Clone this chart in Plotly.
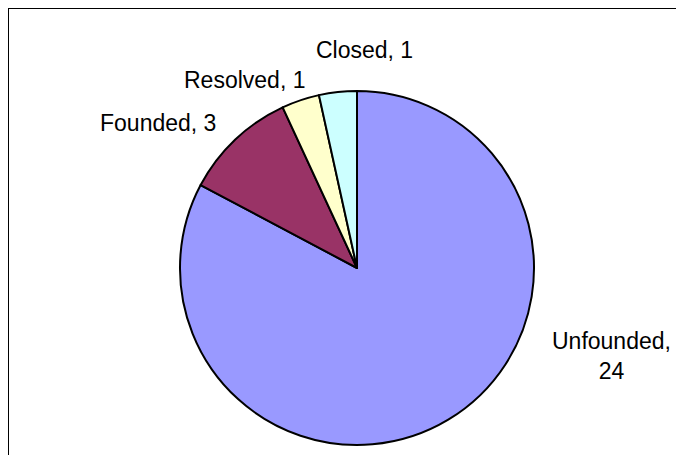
import plotly.graph_objects as go

labels = ["Unfounded", "Founded", "Resolved", "Closed"]
values = [24, 3, 1, 1]
colors = ["#9999FF", "#993366", "#FFFFCC", "#CCFFFF"]

# figure larger than the window; only its top-left part is visible (as in the reference)
W, H = 720, 480
# label text centres (figure pixels) and line breaks
label_px = [(603, 348), (149.5, 115), (236.5, 72), (356, 42)]
label_sep = [",<br>", ", ", ", ", ", "]

cx, cy, r = 349, 260, 177

fig = go.Figure(go.Pie(
    labels=labels, values=values, sort=False, direction="clockwise", rotation=0,
    marker=dict(colors=colors, line=dict(color="black", width=2)),
    textinfo="none", hoverinfo="label+value",
    domain=dict(x=[(cx - r) / W, (cx + r) / W], y=[1 - (cy + r) / H, 1 - (cy - r) / H]),
    showlegend=False,
))

for lab, val, (px, py), sep in zip(labels, values, label_px, label_sep):
    fig.add_annotation(x=px / W, y=1 - py / H, xref="paper", yref="paper", text=f"{lab}{sep}{val}",
                       showarrow=False, xanchor="center", yanchor="middle",
                       font=dict(family="Liberation Sans, Arial", size=23, color="black"))

# chart-area border (top and left edges)
fig.add_shape(type="line", xref="paper", yref="paper", x0=0, x1=1, y0=1 - 0.5 / H, y1=1 - 0.5 / H,
              line=dict(color="black", width=1))
fig.add_shape(type="line", xref="paper", yref="paper", x0=0.5 / W, x1=0.5 / W, y0=0, y1=1,
              line=dict(color="black", width=1))

fig.update_layout(width=W, height=H, margin=dict(l=0, r=0, t=0, b=0),
                  paper_bgcolor="white", plot_bgcolor="white")
fig.write_html("out.html", config={"displayModeBar": False},
               post_script="document.documentElement.style.overflow='hidden';"
                           "document.body.style.overflow='hidden';")
